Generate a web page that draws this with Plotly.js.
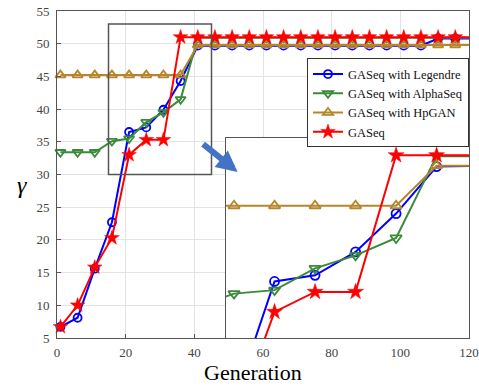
<!DOCTYPE html>
<html>
<head>
<meta charset="utf-8">
<script src="https://cdn.plot.ly/plotly-3.0.1.min.js"></script>
<style>html,body{margin:0;padding:0;background:#fff}#chart{width:479px;height:386px}</style>
</head>
<body>
<div id="chart"></div>
<script>
// Data
const generation = [1, 6, 11, 16, 21, 26, 31, 36, 41, 46, 51, 56, 61, 66, 71, 76, 81, 86, 91, 96, 101, 106, 111, 116, 121];
const legendre = [6.7, 8.1, 15.6, 22.7, 36.5, 37.2, 39.9, 44.3, 49.7, 49.7, 49.7, 49.7, 49.7, 49.7, 49.7, 49.7, 49.7, 49.7, 49.7, 49.7, 49.7, 49.7, 50.8, 50.8, 50.8];
const alphaSeq = [33.4, 33.4, 33.4, 35.1, 35.5, 38.0, 39.5, 41.5, 50.9, 50.9, 50.9, 50.9, 50.9, 50.9, 50.9, 50.9, 50.9, 50.9, 50.9, 50.9, 50.9, 50.9, 50.9, 50.9, 50.9];
const hpGAN = [45.2, 45.2, 45.2, 45.2, 45.2, 45.2, 45.2, 45.2, 49.8, 49.8, 49.8, 49.8, 49.8, 49.8, 49.8, 49.8, 49.8, 49.8, 49.8, 49.8, 49.8, 49.8, 49.8, 49.8, 49.8];
const gaSeq = [6.7, 10.0, 15.8, 20.3, 33.0, 35.3, 35.3, 51.0, 51.0, 51.0, 51.0, 51.0, 51.0, 51.0, 51.0, 51.0, 51.0, 51.0, 51.0, 51.0, 51.0, 51.0, 51.0, 51.0, 51.0];
const seriesNames = ['GASeq with Legendre', 'GASeq with AlphaSeq', 'GASeq with HpGAN', 'GASeq'];
const xTicks = [0, 20, 40, 60, 80, 100, 120];
const yTicks = [5, 10, 15, 20, 25, 30, 35, 40, 45, 50, 55];
const zoomX = [15, 45];
const zoomY = [30, 53];

const serif = '"Liberation Serif", "Times New Roman", serif';
const styles = [
  {color: '#0000FF', symbol: 'circle-open', size: 8},
  {color: '#3A8A3A', symbol: 'triangle-down-open', size: 9},
  {color: '#B8862A', symbol: 'triangle-up-open', size: 9},
  {color: '#FF0000', symbol: 'star', size: 11}
];
const ys = [legendre, alphaSeq, hpGAN, gaSeq];

const traces = [];
ys.forEach((y, i) => {
  const s = styles[i];
  traces.push({
    x: generation, y: y, name: seriesNames[i], type: 'scatter', mode: 'lines+markers',
    xaxis: 'x', yaxis: 'y', cliponaxis: false,
    line: {color: s.color, width: 2},
    marker: {symbol: s.symbol, size: s.size, color: s.color, line: {color: s.color, width: s.symbol === 'star' ? 0.5 : 1.8}}
  });
});
ys.forEach((y, i) => {
  const s = styles[i];
  traces.push({
    x: generation, y: y, name: seriesNames[i], type: 'scatter', mode: 'lines+markers',
    xaxis: 'x2', yaxis: 'y2', cliponaxis: true, showlegend: false,
    line: {color: s.color, width: 2},
    marker: {symbol: s.symbol, size: s.size + 1, color: s.color, line: {color: s.color, width: s.symbol === 'star' ? 0.5 : 1.8}}
  });
});

const axisCommon = {
  showline: true, mirror: true, linecolor: '#555', linewidth: 1,
  ticks: 'inside', ticklen: 4, tickcolor: '#555',
  showgrid: true, gridcolor: '#e3e3e3', gridwidth: 1, zeroline: false,
  tickfont: {family: serif, size: 13, color: '#444'}
};

const layout = {
  width: 479, height: 386,
  margin: {l: 57, r: 10, t: 11, b: 48},
  paper_bgcolor: '#fff', plot_bgcolor: '#fff',
  font: {family: serif},
  showlegend: true,
  xaxis: Object.assign({}, axisCommon, {range: [0, 120], tickvals: xTicks, ticklabelstandoff: 2, domain: [0, 1]}),
  yaxis: Object.assign({}, axisCommon, {range: [5, 55], tickvals: yTicks, ticklabelstandoff: 4, domain: [0, 1]}),
  xaxis2: {domain: [0.41, 1], anchor: 'y2', range: zoomX, showline: true, mirror: true, linecolor: '#555', linewidth: 1,
           showgrid: false, zeroline: false, showticklabels: false, ticks: ''},
  yaxis2: {domain: [0, 0.612], anchor: 'x2', range: zoomY, showline: true, mirror: true, linecolor: '#555', linewidth: 1,
           showgrid: false, zeroline: false, showticklabels: false, ticks: ''},
  legend: {x: 1, xanchor: 'right', y: 0.855, yanchor: 'top', bgcolor: '#fff', bordercolor: '#333', borderwidth: 1,
           font: {family: serif, size: 12.5, color: '#111'}, tracegroupgap: 0},
  shapes: [{type: 'rect', xref: 'x', yref: 'y', x0: zoomX[0], x1: zoomX[1], y0: zoomY[0], y1: zoomY[1],
            line: {color: '#555', width: 1.5}, layer: 'above'}],
  annotations: [
    {xref: 'x', yref: 'y', x: 52.6, y: 30.4, ax: -36, ay: -29, axref: 'pixel', ayref: 'pixel', text: '',
     showarrow: true, arrowhead: 2, arrowsize: 0.7, arrowwidth: 6, arrowcolor: '#4472C4', standoff: 0},
    {xref: 'paper', yref: 'paper', x: (253 - 57) / 412, y: -0.107, yanchor: 'middle', xanchor: 'center', showarrow: false,
     text: 'Generation', font: {family: serif, size: 22, color: '#000'}},
    {xref: 'paper', yref: 'paper', x: (22 - 57) / 412, y: (338 - 185) / 327, xanchor: 'center', yanchor: 'middle', showarrow: false,
     text: '<i>γ</i>', font: {family: serif, size: 24, color: '#000'}}
  ]
};

Plotly.newPlot('chart', traces, layout, {displayModeBar: false, staticPlot: true});
</script>
</body>
</html>
